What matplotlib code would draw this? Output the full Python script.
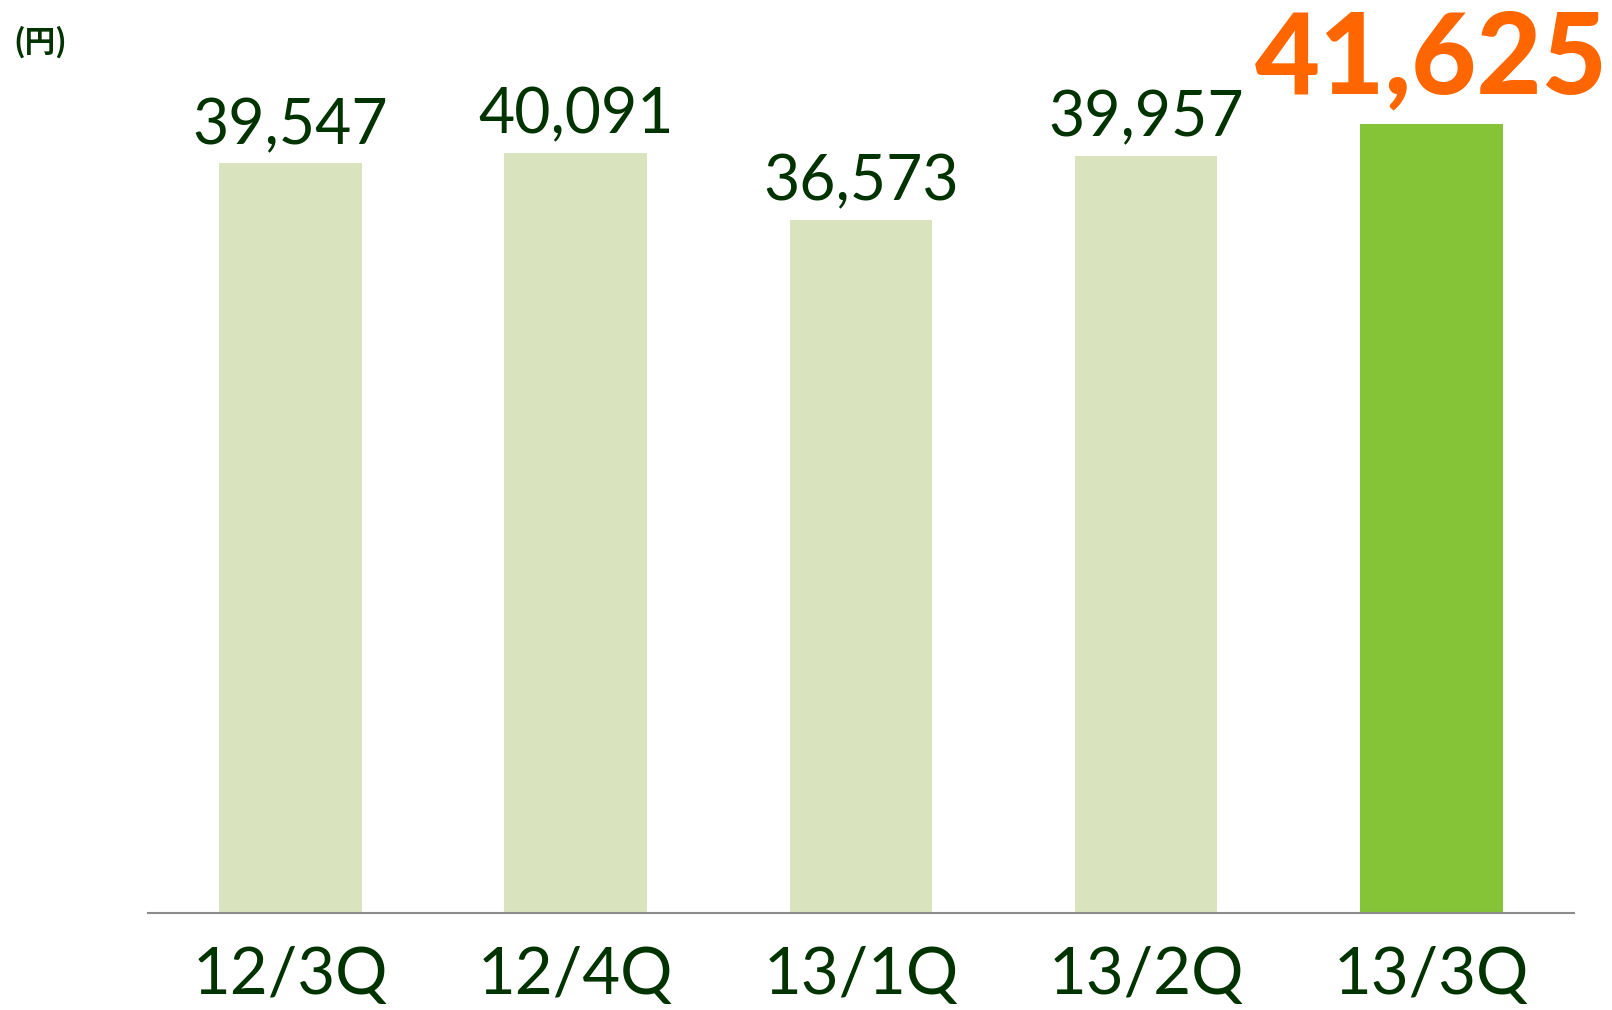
import matplotlib.pyplot as plt

plt.rcParams['font.family'] = ['Lato', 'Noto Sans CJK JP', 'DejaVu Sans']

quarters = ['12/3Q', '12/4Q', '13/1Q', '13/2Q', '13/3Q']
values = [39547, 40091, 36573, 39957, 41625]

lightGreen = '#d9e4bf'
brightGreen = '#84c436'
darkGreen = '#003300'
orange = '#ff6600'

fig = plt.figure(figsize=(16.12, 10.10), dpi=100)
ax = fig.add_axes([0.0918, 0.096, 0.8846, 0.904])

colors = [lightGreen] * (len(values) - 1) + [brightGreen]
bars = ax.bar(range(len(values)), values, width=0.5, color=colors)

ax.set_xlim(-0.5, 4.5)
ax.set_ylim(0, 48170)

# value labels above bars, last one highlighted
for i, v in enumerate(values):
    label = '{:,}'.format(v)
    if i == len(values) - 1:
        ax.annotate(label, (i, v), xytext=(0, 8), textcoords='offset points',
                    ha='center', va='bottom', fontsize=81, fontweight='black',
                    color=orange)
    else:
        ax.annotate(label, (i, v), xytext=(0, 6), textcoords='offset points',
                    ha='center', va='bottom', fontsize=45, color=darkGreen)

ax.set_xticks(range(len(quarters)), labels=quarters)
ax.tick_params(axis='x', length=0, labelsize=47, labelcolor=darkGreen, pad=24)
ax.set_yticks([])

for side in ['top', 'right', 'left']:
    ax.spines[side].set_visible(False)
ax.spines['bottom'].set_color('#8c8c8c')
ax.spines['bottom'].set_linewidth(1.5)

fig.text(0.008, 0.958, '(円)', fontsize=22, fontweight='bold', color=darkGreen,
         family=['Noto Sans CJK JP', 'DejaVu Sans'], va='center', ha='left')

plt.savefig('out.png', dpi=100)
